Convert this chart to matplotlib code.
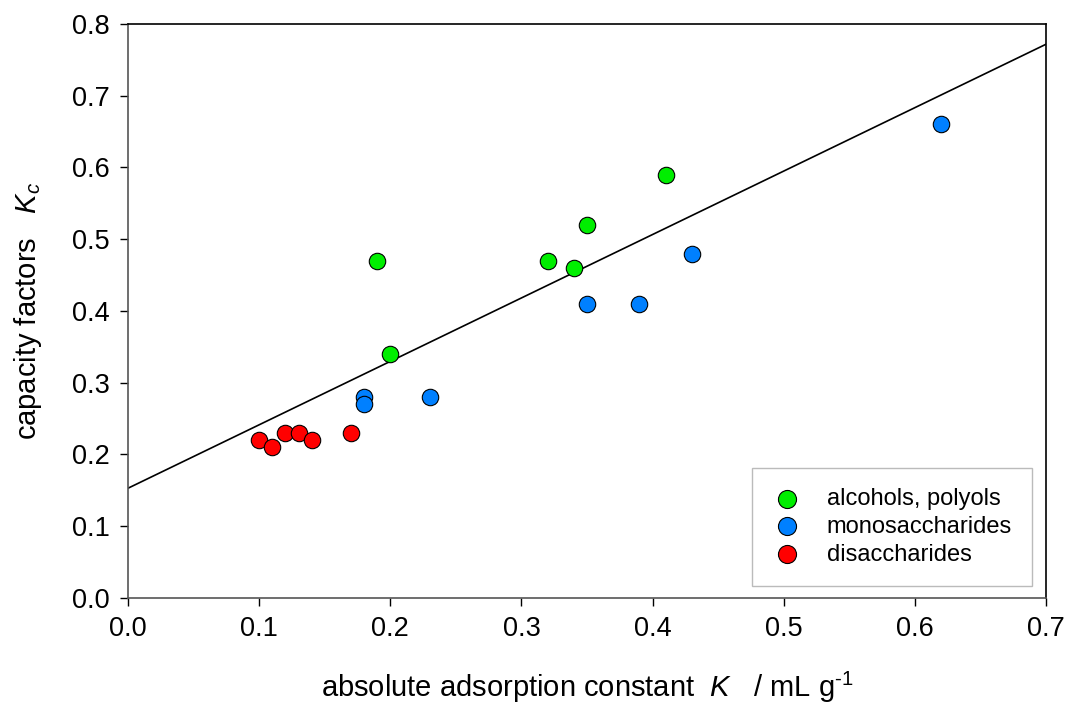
import matplotlib
matplotlib.use("Agg")
import matplotlib.pyplot as plt
import numpy as np

plt.rcParams['font.family'] = ['Liberation Sans', 'DejaVu Sans']
plt.rcParams['mathtext.fontset'] = 'custom'
plt.rcParams['mathtext.it'] = 'Liberation Sans:italic'
plt.rcParams['mathtext.rm'] = 'Liberation Sans'

alc_x = [0.19, 0.20, 0.32, 0.34, 0.35, 0.41]
alc_y = [0.47, 0.34, 0.47, 0.46, 0.52, 0.59]
mono_x = [0.18, 0.18, 0.23, 0.35, 0.39, 0.43, 0.62]
mono_y = [0.28, 0.27, 0.28, 0.41, 0.41, 0.48, 0.66]
di_x = [0.10, 0.11, 0.12, 0.13, 0.14, 0.17]
di_y = [0.22, 0.21, 0.23, 0.23, 0.22, 0.23]
fit_intercept = 0.153
fit_slope = 0.884

fig = plt.figure(figsize=(10.68, 7.04), dpi=100)
ax = fig.add_axes([0.1199, 0.1506, 0.8595, 0.8153])

lx = np.array([0.0, 0.7])
ax.plot(lx, fit_intercept + fit_slope * lx, color='black', lw=1.2, zorder=2)

kw = dict(s=140, edgecolors='black', linewidths=0.8, zorder=3)
ax.scatter(alc_x, alc_y, color='#00ee00', label='alcohols, polyols', **kw)
ax.scatter(mono_x, mono_y, color='#0080ff', label='monosaccharides', **kw)
ax.scatter(di_x, di_y, color='#ff0000', label='disaccharides', **kw)

ax.set_xlim(0, 0.7)
ax.set_ylim(0, 0.8)
ax.set_xticks(np.arange(0, 0.71, 0.1))
ax.set_yticks(np.arange(0, 0.81, 0.1))
ax.set_xticklabels([f"{v:.1f}" for v in np.arange(0, 0.71, 0.1)])
ax.set_yticklabels([f"{v:.1f}" for v in np.arange(0, 0.81, 0.1)])
ax.tick_params(direction='out', length=6, width=1, labelsize=19.5, pad=7)
for s in ax.spines.values():
    s.set_linewidth(1.2)
for s in ['left', 'bottom']:
    ax.spines[s].set_color('#555555')

ax.set_xlabel(r"absolute adsorption constant  $K$   / mL g$^{\text{-1}}$", fontsize=21, labelpad=20)
ax.set_ylabel(r"capacity factors   $K_c$", fontsize=21, labelpad=20)

leg = ax.legend(loc='lower right', bbox_to_anchor=(0.9848, 0.0215), fontsize=17,
                frameon=True, fancybox=False, edgecolor='#aaaaaa',
                borderpad=0.85, handletextpad=1.1, handlelength=1.2,
                labelspacing=0.25, borderaxespad=0, scatterpoints=1,
                markerscale=1.1)
leg.get_frame().set_linewidth(1.0)
fig.canvas.draw()
bb = leg.get_window_extent()
# widen frame to the reference width by padding on the right
frame = leg.get_frame()

fig.savefig("out.png", dpi=100)
